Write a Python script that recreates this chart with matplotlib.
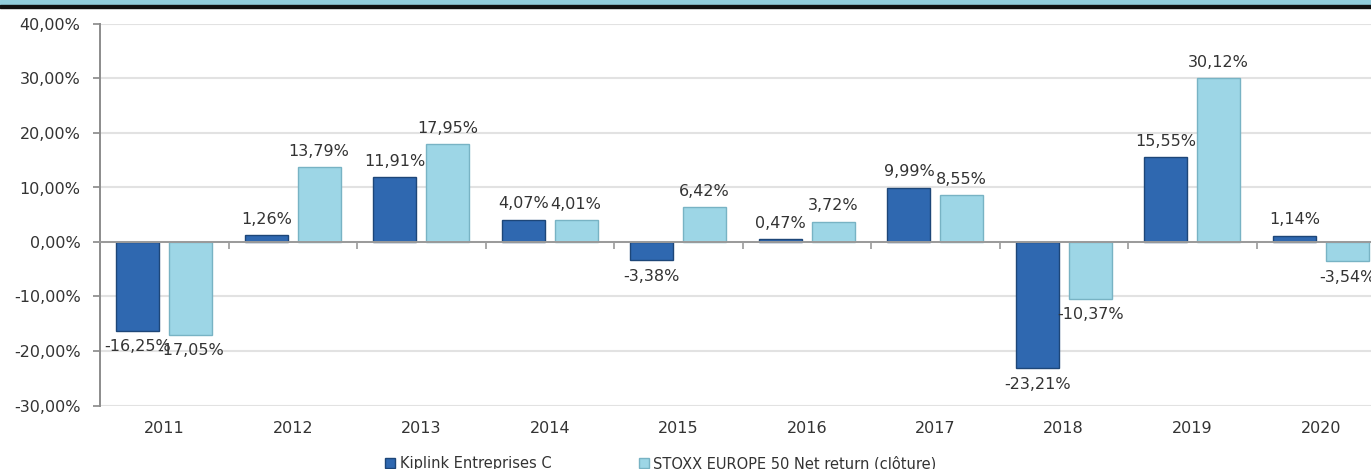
import numpy as np
import matplotlib
matplotlib.use("Agg")
import matplotlib.pyplot as plt
import matplotlib.patches as patches

years = ["2011", "2012", "2013", "2014", "2015", "2016", "2017", "2018", "2019", "2020"]
kiplink = [-16.25, 1.26, 11.91, 4.07, -3.38, 0.47, 9.99, -23.21, 15.55, 1.14]
stoxx = [-17.05, 13.79, 17.95, 4.01, 6.42, 3.72, 8.55, -10.37, 30.12, -3.54]
series_names = ["Kiplink Entreprises C", "STOXX EUROPE 50 Net return (clôture)"]
y_ticks = [-30, -20, -10, 0, 10, 20, 30, 40]


def _fmt(v):
    return f"{v:.2f}".replace(".", ",") + "%"


fig = plt.figure(figsize=(13.71, 4.69), dpi=100, facecolor="white")

# bandeau en haut
fig.patches.append(patches.Rectangle((0, 1 - 5 / 469), 1, 5 / 469,
                                     transform=fig.transFigure, color="#92cddc", zorder=0))
fig.patches.append(patches.Rectangle((0, 1 - 8 / 469), 1, 3 / 469,
                                     transform=fig.transFigure, color="#111111", zorder=0))

ax = fig.add_axes([100 / 1371, 1 - 405.5 / 469, 1 - 100 / 1371, (405.5 - 24) / 469])

x = np.arange(len(years))
w = 0.335
off = 0.205
b1 = ax.bar(x - off, kiplink, w, color="#2f68b0", edgecolor="#1d4678", linewidth=1.0, zorder=3)
b2 = ax.bar(x + off, stoxx, w, color="#9dd6e6", edgecolor="#78b3c4", linewidth=1.0, zorder=3)

for bars, vals in ((b1, kiplink), (b2, stoxx)):
    for rect, v in zip(bars, vals):
        cx = rect.get_x() + rect.get_width() / 2
        if v >= 0:
            ax.annotate(_fmt(v), (cx, v), xytext=(0, 6), textcoords="offset points",
                        ha="center", va="bottom", fontsize=11.5, color="#333333", zorder=5)
        else:
            ax.annotate(_fmt(v), (cx, v), xytext=(0, -6), textcoords="offset points",
                        ha="center", va="top", fontsize=11.5, color="#333333", zorder=5)

ax.set_ylim(-30, 40)
ax.set_xlim(-0.5, (1371 - 100) / 128.5 - 0.5)
ax.set_yticks(y_ticks)
ax.set_yticklabels([f"{t:.2f}".replace(".", ",") + "%" for t in y_ticks],
                   fontsize=11.5, color="#333333")
ax.tick_params(axis="y", length=5, width=1.2, color="#888888", pad=9)
ax.grid(axis="y", color="#e2e2e2", linewidth=1.5, zorder=0)
ax.set_axisbelow(True)

for s in ("top", "right"):
    ax.spines[s].set_visible(False)
ax.spines["left"].set_color("#8c8c8c")
ax.spines["left"].set_linewidth(1.4)

# axe horizontal au niveau zéro avec graduations entre catégories
ax.spines["bottom"].set_position(("data", 0))
ax.spines["bottom"].set_color("#9a9a9a")
ax.spines["bottom"].set_linewidth(1.4)
ax.spines["bottom"].set_zorder(4)
ax.set_xticks(x[:-1] + 0.5)
ax.set_xticklabels([])
ax.tick_params(axis="x", length=5, width=1.2, color="#9a9a9a", direction="out")

sec = ax.secondary_xaxis("bottom")
sec.set_xticks(x)
sec.set_xticklabels(years, fontsize=11.5, color="#333333")
sec.tick_params(length=0, pad=11)
sec.spines["bottom"].set_visible(False)

h1 = patches.Patch(facecolor="#2f68b0", edgecolor="#1d4678")
h2 = patches.Patch(facecolor="#9dd6e6", edgecolor="#78b3c4")
fig.legend([h1, h2], series_names, loc="center", bbox_to_anchor=(0.482, 0.012),
           ncol=2, frameon=False, fontsize=10.5, handlelength=0.7, handleheight=0.7,
           handletextpad=0.3, columnspacing=6, labelcolor="#333333")

fig.savefig("out.png", dpi=100, facecolor="white")
